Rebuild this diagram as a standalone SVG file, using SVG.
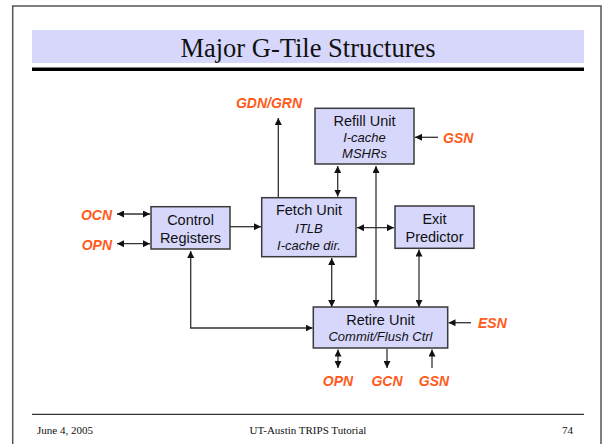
<svg xmlns="http://www.w3.org/2000/svg" width="602" height="444" viewBox="0 0 602 444">
<defs>
<marker id="ah" viewBox="0 0 10 10" refX="10" refY="5" markerWidth="7" markerHeight="7" markerUnits="userSpaceOnUse" orient="auto-start-reverse">
<path d="M0,0 L10,5 L0,10 z" fill="#111"/>
</marker>
<style>
.box{fill:#D7D7FC;stroke:#3a3a3a;stroke-width:1.5}
.t{font-family:"Liberation Sans",Arial,sans-serif;font-size:14.5px;fill:#111;text-anchor:middle}
.i{font-family:"Liberation Sans",Arial,sans-serif;font-size:13px;font-style:italic;fill:#111;text-anchor:middle}
.lbl{font-family:"Liberation Sans",Arial,sans-serif;font-size:14px;font-style:italic;font-weight:bold;fill:#FF5A1A}
.c{fill:none;stroke:#333;stroke-width:1.3}
.ft{font-family:"Liberation Serif","Times New Roman",serif;font-size:11px;fill:#111}
</style>
</defs>
<rect width="602" height="444" fill="#fff"/>
<path d="M12.7,444 V6 H601 V444" fill="none" stroke="#555" stroke-width="1.5"/>
<rect x="32" y="30" width="552" height="33" fill="#D7D7FC"/>
<rect x="32" y="67.5" width="552" height="3.5" fill="#000"/>
<text x="308" y="57" font-family="Liberation Serif,'Times New Roman',serif" font-size="26.5" text-anchor="middle" fill="#111">Major G-Tile Structures</text>
<line x1="32" y1="414.3" x2="584" y2="414.3" stroke="#333" stroke-width="1.2"/>
<text class="ft" x="37" y="434">June 4, 2005</text>
<text class="ft" x="308" y="434" text-anchor="middle">UT-Austin TRIPS Tutorial</text>
<text class="ft" x="573" y="434" text-anchor="end">74</text>

<g id="connectors">
<line class="c" x1="278.3" y1="197.7" x2="278.3" y2="118" marker-end="url(#ah)"/>
<line class="c" x1="117" y1="214" x2="150" y2="214" marker-start="url(#ah)" marker-end="url(#ah)"/>
<line class="c" x1="117" y1="243.7" x2="150" y2="243.7" marker-start="url(#ah)" marker-end="url(#ah)"/>
<line class="c" x1="230" y1="226.7" x2="261" y2="226.7" marker-end="url(#ah)"/>
<line class="c" x1="357" y1="227.7" x2="394" y2="227.7" marker-start="url(#ah)" marker-end="url(#ah)"/>
<line class="c" x1="337.7" y1="166" x2="337.7" y2="196.5" marker-start="url(#ah)" marker-end="url(#ah)"/>
<line class="c" x1="438" y1="137.3" x2="415" y2="137.3" marker-end="url(#ah)"/>
<line class="c" x1="376" y1="166" x2="376" y2="307" marker-start="url(#ah)" marker-end="url(#ah)"/>
<line class="c" x1="331.7" y1="258" x2="331.7" y2="307" marker-start="url(#ah)" marker-end="url(#ah)"/>
<line class="c" x1="419" y1="249.5" x2="419" y2="307" marker-start="url(#ah)" marker-end="url(#ah)"/>
<path class="c" d="M190.7,251 V328 H312.5" marker-start="url(#ah)" marker-end="url(#ah)"/>
<line class="c" x1="471" y1="322.7" x2="448.5" y2="322.7" marker-end="url(#ah)"/>
<line class="c" x1="338" y1="349.5" x2="338" y2="368" marker-start="url(#ah)" marker-end="url(#ah)"/>
<line class="c" x1="387" y1="349" x2="387" y2="368" marker-end="url(#ah)"/>
<line class="c" x1="432" y1="368" x2="432" y2="349.5" marker-end="url(#ah)"/>
</g>

<g id="refill">
<rect class="box" x="315" y="108.3" width="99" height="55.7"/>
<text class="t" x="364.5" y="126">Refill Unit</text>
<text class="i" x="364.5" y="142">I-cache</text>
<text class="i" x="364.5" y="157.5">MSHRs</text>
</g>
<g id="fetch">
<rect class="box" x="261.7" y="197.7" width="94.3" height="59"/>
<text class="t" x="309" y="215">Fetch Unit</text>
<text class="i" x="309" y="232.5">ITLB</text>
<text class="i" x="309" y="249.5">I-cache dir.</text>
</g>
<g id="control">
<rect class="box" x="151" y="206.7" width="79" height="42.3"/>
<text class="t" x="190.5" y="225">Control</text>
<text class="t" x="190.5" y="242.5">Registers</text>
</g>
<g id="exit">
<rect class="box" x="395" y="206" width="79" height="42.3"/>
<text class="t" x="434.5" y="224">Exit</text>
<text class="t" x="434.5" y="241.5">Predictor</text>
</g>
<g id="retire">
<rect class="box" x="313.3" y="307" width="134.4" height="41"/>
<text class="t" x="380.5" y="325">Retire Unit</text>
<text class="i" x="380.5" y="340.5">Commit/Flush Ctrl</text>
</g>

<g id="labels">
<text class="lbl" x="269" y="108" text-anchor="middle">GDN/GRN</text>
<text class="lbl" x="443" y="143">GSN</text>
<text class="lbl" x="112" y="220" text-anchor="end">OCN</text>
<text class="lbl" x="112" y="250" text-anchor="end">OPN</text>
<text class="lbl" x="478" y="328">ESN</text>
<text class="lbl" x="338" y="386" text-anchor="middle">OPN</text>
<text class="lbl" x="387" y="386" text-anchor="middle">GCN</text>
<text class="lbl" x="434" y="386" text-anchor="middle">GSN</text>
</g>
</svg>
